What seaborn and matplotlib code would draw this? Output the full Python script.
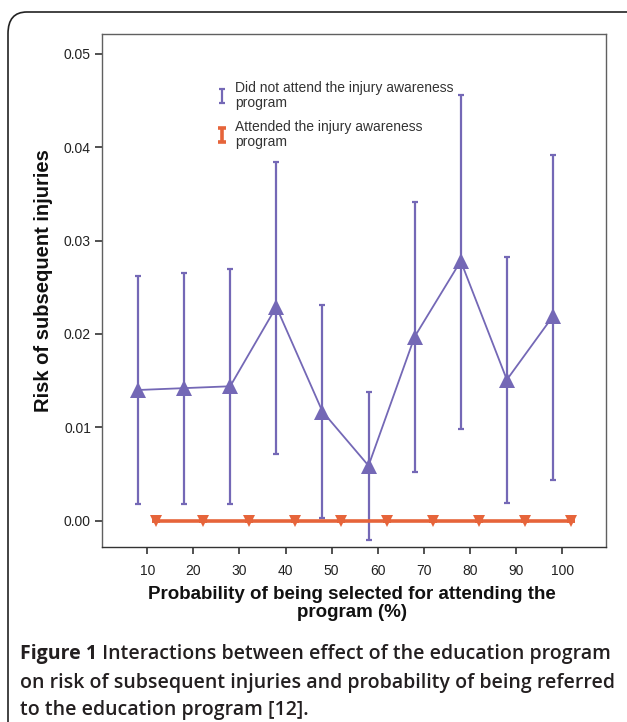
import numpy as np
import pandas as pd
import seaborn as sns
import matplotlib.pyplot as plt
from matplotlib.patches import FancyBboxPatch

# probability of being selected (%) - one group per decile
categories = [10, 20, 30, 40, 50, 60, 70, 80, 90, 100]
groups = ["Did not attend the injury awareness\nprogram",
          "Attended the injury awareness\nprogram"]

# did not attend: mean risk and 95% CI
means_not = [0.0140, 0.0142, 0.0144, 0.0229, 0.0117, 0.0059, 0.0197, 0.0278, 0.0151, 0.0219]
upper_not = [0.0262, 0.0265, 0.0269, 0.0384, 0.0231, 0.0138, 0.0341, 0.0456, 0.0282, 0.0391]
lower_not = [0.0018, 0.0018, 0.0018, 0.0071, 0.0003, -0.0021, 0.0052, 0.0098, 0.0019, 0.0044]

# attended: no subsequent injuries
means_att = [0.0, 0.0, 0.0, 0.0, 0.0, 0.0, 0.0, 0.0, 0.0, 0.0]
upper_att = [0.0, 0.0, 0.0, 0.0, 0.0, 0.0, 0.0, 0.0, 0.0, 0.0]
lower_att = [0.0, 0.0, 0.0, 0.0, 0.0, 0.0, 0.0, 0.0, 0.0, 0.0]

purple = "#7468b6"
orange = "#e6643a"

sns.set_style("white")
plt.rcParams['font.family'] = ['Liberation Sans', 'DejaVu Sans']

# small dodge so the two groups don't sit on top of each other
dodge = {groups[0]: -2, groups[1]: 2}
df = pd.DataFrame({
    "x": np.concatenate([np.array(categories) + dodge[groups[0]],
                         np.array(categories) + dodge[groups[1]]]),
    "risk": means_not + means_att,
    "lower": lower_not + lower_att,
    "upper": upper_not + upper_att,
    "group": [groups[0]] * len(categories) + [groups[1]] * len(categories),
})

fig = plt.figure(figsize=(6.27, 7.22), dpi=100)
ax = fig.add_axes([0.1627, 0.2424, 0.8038, 0.7105])

palette = {groups[0]: purple, groups[1]: orange}
containers = []
for g, lw, elw, cap in [(groups[0], 1.3, 1.6, 2.5), (groups[1], 2.6, 2.6, 3)]:
    sub = df[df["group"] == g]
    sns.lineplot(data=sub, x="x", y="risk", color=palette[g], marker="^" if g == groups[0] else "v",
                 markersize=12 if g == groups[0] else 8, markeredgewidth=0, linewidth=lw,
                 ax=ax, legend=False, zorder=3)
    err = [sub["risk"] - sub["lower"], sub["upper"] - sub["risk"]]
    eb = ax.errorbar(sub["x"], sub["risk"], yerr=err, fmt="none", ecolor=palette[g],
                     elinewidth=elw, capsize=cap, capthick=elw, zorder=2)
    containers.append(eb)

ax.set_xlim(0.2, 109.5)
ax.set_ylim(-0.0028, 0.0521)
ax.set_xticks(categories)
ax.set_yticks([0.00, 0.01, 0.02, 0.03, 0.04, 0.05])
ax.set_yticklabels(["%.2f" % t for t in [0.00, 0.01, 0.02, 0.03, 0.04, 0.05]])
ax.tick_params(axis="both", direction="out", length=5, width=1.2, color="#333333",
               labelsize=10, labelcolor="#222222", pad=3, bottom=True, left=True)
ax.tick_params(axis="x", pad=7)

for s in ax.spines.values():
    s.set_color("#606060")
    s.set_linewidth(1.0)
ax.spines["bottom"].set_color("#333333")

ax.set_ylabel("Risk of subsequent injuries", fontsize=14.5, fontweight="bold", color="#111111")
ax.yaxis.set_label_coords(-0.097, 0.52)
ax.set_xlabel("Probability of being selected for attending the\nprogram (%)", fontsize=13.5,
              fontweight="bold", color="#111111", linespacing=1.05)
ax.xaxis.set_label_coords(0.496, -0.077)

lgd = ax.legend(handles=containers, labels=groups, loc="upper left", bbox_to_anchor=(0.215, 0.92),
                frameon=False, fontsize=10, handlelength=0.9, handletextpad=0.5,
                labelspacing=0.75, borderaxespad=0)
for t in lgd.get_texts():
    t.set_color("#333333")
    t.set_linespacing(1.1)

# outer rounded frame of the figure panel
box = FancyBboxPatch((8 / 627, 1 - 760 / 722), 700 / 627, 748 / 722,
                     boxstyle="round,pad=0,rounding_size=0.03", transform=fig.transFigure,
                     facecolor="none", edgecolor="#222222", linewidth=1.2, clip_on=False)
fig.patches.append(box)

# caption
cap_kw = dict(fontsize=14, color="#231f20", family=["Open Sans", "DejaVu Sans"])
t1 = fig.text(20 / 627, 1 - 664 / 722, "Figure 1", fontweight="bold", va="bottom", **cap_kw)
ax.annotate(" Interactions between effect of the education program", xy=(1, 0), xycoords=t1,
            va="bottom", ha="left", fontweight="semibold", annotation_clip=False, **cap_kw)
fig.text(20 / 627, 1 - 693 / 722, "on risk of subsequent injuries and probability of being referred",
         fontweight="semibold", va="bottom", **cap_kw)
fig.text(20 / 627, 1 - 720 / 722, "to the education program [12].",
         fontweight="semibold", va="bottom", **cap_kw)

fig.savefig("out.png", dpi=100)
